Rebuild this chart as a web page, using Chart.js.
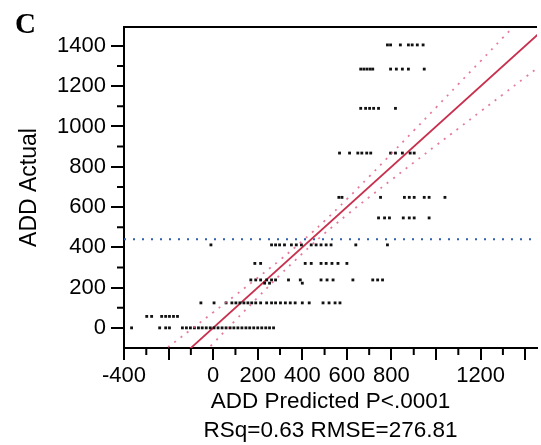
<!DOCTYPE html>
<html>
<head>
<meta charset="utf-8">
<script src="https://cdn.jsdelivr.net/npm/chart.js@4.4.1/dist/chart.umd.min.js"></script>
<style>
  html, body { margin: 0; padding: 0; background: #fff; }
  #wrap { width: 541px; height: 445px; }
</style>
</head>
<body>
<div id="wrap"><canvas id="fitChart" width="541" height="445"></canvas></div>
<script>
// ADD Actual value of each row of points
const actualRows = [1405, 1285, 1090, 868, 648, 546, 412, 320, 238, 222, 124, 57, 0];
// ADD Predicted values found in each row
const predictedRows = [
  [782, 796, 840, 876, 893, 916, 942],
  [662, 676, 690, 704, 716, 796, 822, 849, 876, 947],
  [662, 684, 702, 720, 742, 818],
  [567, 612, 649, 667, 689, 707, 796, 818, 849, 884, 902],
  [564, 578, 751, 858, 880, 902, 947, 969, 1040],
  [742, 769, 791, 853, 880, 902, 969],
  [-10, 262, 280, 298, 320, 351, 373, 396, 440, 462, 484, 507, 529, 640, 782],
  [187, 213, 413, 440, 484, 507, 533, 560, 600],
  [169, 191, 213, 240, 262, 280, 338, 391, 484, 511, 538, 627, 716, 738, 760],
  [231, 253, 400],
  [-55, 4, 58, 84, 102, 120, 138, 156, 173, 191, 213, 240, 262, 280, 302, 324, 346, 368, 400, 431, 493, 520, 547, 569],
  [-298, -276, -231, -213, -196, -178, -160],
  [-366, -240, -213, -196, -138, -120, -102, -84, -66, -49, -31, -13, 4, 22, 40, 58, 76, 93, 111, 129, 147, 164, 182, 200, 218, 236, 253, 271]
];

// fit line and its confidence curves
const fitX = [-110, 1500];
const fitY = [-110, 1500];
const bandX = [-260, -100, 0, 100, 200, 300, 400, 440, 500, 600, 700, 800, 900, 1000, 1100, 1200, 1300, 1400, 1500];
const bandUpper = [-144, -9, 77, 162, 249, 337, 431, 470, 531, 639, 751, 865, 979, 1094, 1210, 1325, 1441, 1556, 1672];
const bandLower = [-376, -191, -77, 38, 151, 263, 369, 410, 469, 561, 649, 735, 821, 906, 990, 1075, 1159, 1244, 1328];
const meanActual = 440;

// axis ticks
const xTicks = [-400, -200, 0, 200, 400, 600, 800, 1000, 1200, 1400];
const xLabelled = [-400, 0, 200, 400, 600, 800, 1200];
const xMinor = [-300, -100, 100, 300, 500, 700, 900, 1100, 1300];
const yTicks = [0, 200, 400, 600, 800, 1000, 1200, 1400];
const yMinor = [100, 300, 500, 700, 900, 1100, 1300];

const points = [];
actualRows.forEach((a, i) => {
  predictedRows[i].forEach(p => points.push({ x: p, y: a }));
});
const toXY = (xs, ys) => xs.map((v, i) => ({ x: v, y: ys[i] }));

const fontFamily = '"Liberation Sans", Arial, sans-serif';

// top frame, minor ticks and panel letter
const extras = {
  id: 'extras',
  afterDraw(chart) {
    const { ctx, chartArea: a, scales: { x, y } } = chart;
    ctx.save();
    ctx.strokeStyle = '#000';
    ctx.lineWidth = 2;
    ctx.beginPath();
    ctx.moveTo(a.left - 1, a.top);
    ctx.lineTo(a.right, a.top);
    xMinor.forEach(v => {
      const px = x.getPixelForValue(v);
      ctx.moveTo(px, a.bottom);
      ctx.lineTo(px, a.bottom + 7);
    });
    yMinor.forEach(v => {
      const py = y.getPixelForValue(v);
      ctx.moveTo(a.left, py);
      ctx.lineTo(a.left - 7, py);
    });
    ctx.stroke();
    ctx.fillStyle = '#000';
    ctx.font = 'bold 29px "Liberation Serif", serif';
    ctx.fillText('C', 15, 33);
    ctx.restore();
  }
};

const ctx = document.getElementById('fitChart').getContext('2d');
const fitChart = new Chart(ctx, {
  type: 'scatter',
  data: {
    datasets: [
      {
        data: toXY([-400, 1500], [meanActual, meanActual]),
        showLine: true,
        borderColor: '#2f5fb0',
        borderWidth: 2,
        borderDash: [2, 7],
        pointRadius: 0
      },
      {
        data: toXY(bandX, bandUpper),
        showLine: true,
        borderColor: 'rgba(225,100,140,0.85)',
        borderWidth: 1.8,
        borderDash: [2, 6],
        tension: 0.4,
        pointRadius: 0
      },
      {
        data: toXY(bandX, bandLower),
        showLine: true,
        borderColor: 'rgba(225,100,140,0.85)',
        borderWidth: 1.8,
        borderDash: [2, 6],
        tension: 0.4,
        pointRadius: 0
      },
      {
        data: points,
        pointStyle: 'rect',
        pointRadius: 2,
        backgroundColor: '#111',
        borderWidth: 0
      },
      {
        data: toXY(fitX, fitY),
        showLine: true,
        borderColor: '#c8304e',
        borderWidth: 1.8,
        pointRadius: 0
      }
    ]
  },
  options: {
    responsive: false,
    animation: false,
    devicePixelRatio: 1,
    layout: { padding: { top: 27, right: 0, bottom: 0, left: 0 } },
    plugins: {
      legend: { display: false },
      tooltip: { enabled: false }
    },
    scales: {
      x: {
        type: 'linear',
        position: 'bottom',
        min: -400,
        max: 1453,
        afterBuildTicks: s => { s.ticks = xTicks.map(v => ({ value: v })); },
        afterFit: s => { s.height = 97; },
        border: { color: '#000', width: 2 },
        grid: { drawOnChartArea: false, tickLength: 12, color: '#000', lineWidth: 2 },
        ticks: {
          autoSkip: false,
          maxRotation: 0,
          padding: 3,
          color: '#000',
          font: { family: fontFamily, size: 22 },
          callback: v => xLabelled.includes(v) ? String(v) : ''
        },
        title: {
          display: true,
          text: ['ADD Predicted P<.0001', 'RSq=0.63 RMSE=276.81'],
          color: '#000',
          padding: { top: 0, bottom: 0 },
          font: { family: fontFamily, size: 22.5, lineHeight: 1.27 }
        }
      },
      y: {
        type: 'linear',
        min: -100,
        max: 1494,
        afterBuildTicks: s => { s.ticks = yTicks.map(v => ({ value: v })); },
        afterFit: s => { s.width = 124; },
        border: { color: '#000', width: 2 },
        grid: { drawOnChartArea: false, tickLength: 13, color: '#000', lineWidth: 2 },
        ticks: {
          autoSkip: false,
          padding: 5,
          color: '#000',
          font: { family: fontFamily, size: 22 },
          callback: v => String(v)
        },
        title: {
          display: true,
          text: 'ADD Actual',
          color: '#000',
          padding: { top: 16, bottom: 0 },
          font: { family: fontFamily, size: 23, lineHeight: 1.2 }
        }
      }
    }
  },
  plugins: [extras]
});
</script>
</body>
</html>
